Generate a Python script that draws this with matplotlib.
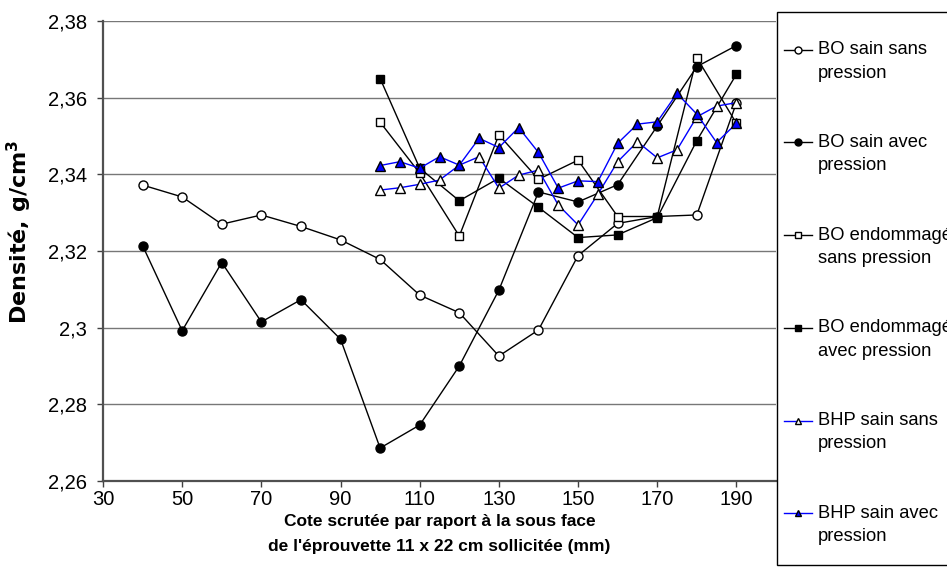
import matplotlib
matplotlib.use("Agg")
import matplotlib.pyplot as plt
from matplotlib.ticker import FixedLocator, FixedFormatter
from matplotlib.legend_handler import HandlerLine2D
from matplotlib.patches import Rectangle

plt.rcParams['font.family'] = ['Liberation Sans', 'DejaVu Sans']

# ---- data ----
x_bo = [40, 50, 60, 70, 80, 90, 100, 110, 120, 130, 140, 150, 160, 170, 180, 190]
bo_sain_sans = [2.3372, 2.3341, 2.3270, 2.3294, 2.3264, 2.3229, 2.3178, 2.3085,
                2.3039, 2.2926, 2.2994, 2.3188, 2.3272, 2.3290, 2.3294, 2.3587]
bo_sain_avec = [2.3214, 2.2992, 2.3170, 2.3015, 2.3073, 2.2970, 2.2686, 2.2746,
                2.2900, 2.3098, 2.3354, 2.3328, 2.3373, 2.3526, 2.3681, 2.3736]

x_bo_end = [100, 110, 120, 130, 140, 150, 160, 170, 180, 190]
bo_end_sans = [2.3536, 2.3403, 2.3239, 2.3503, 2.3387, 2.3437, 2.3290, 2.3290, 2.3704, 2.3533]
bo_end_avec = [2.3650, 2.3416, 2.3331, 2.3390, 2.3314, 2.3235, 2.3242, 2.3287, 2.3488, 2.3661]

x_bhp = [100, 105, 110, 115, 120, 125, 130, 135, 140, 145, 150, 155, 160, 165, 170, 175, 180, 185, 190]
bhp_sans = [2.3359, 2.3365, 2.3374, 2.3385, 2.3424, 2.3446, 2.3364, 2.3398, 2.3411, 2.3320,
            2.3268, 2.3348, 2.3433, 2.3485, 2.3443, 2.3464, 2.3550, 2.3578, 2.3587]
bhp_avec = [2.3423, 2.3433, 2.3416, 2.3446, 2.3424, 2.3494, 2.3470, 2.3522, 2.3457, 2.3364,
            2.3383, 2.3381, 2.3481, 2.3531, 2.3537, 2.3611, 2.3557, 2.3483, 2.3533]

series_labels = ["BO sain sans\npression", "BO sain avec\npression",
                 "BO endommagé\nsans pression", "BO endommagé\navec pression",
                 "BHP sain sans\npression", "BHP sain avec\npression"]

x_ticks = [30, 50, 70, 90, 110, 130, 150, 170, 190]
y_ticks = [2.26, 2.28, 2.30, 2.32, 2.34, 2.36, 2.38]
y_tick_labels = ["2,26", "2,28", "2,3", "2,32", "2,34", "2,36", "2,38"]

x_title = "Cote scrutée par raport à la sous face\nde l'éprouvette 11 x 22 cm sollicitée (mm)"
y_title = r"Densité, g/cm$^\mathbf{3}$"


class TopLineHandler(HandlerLine2D):
    """Place the legend handle level with the first text line."""
    shift = 8.5  # points

    def create_artists(self, legend, orig_handle, xdescent, ydescent,
                       width, height, fontsize, trans):
        return super().create_artists(legend, orig_handle, xdescent,
                                      ydescent - 2 * self.shift, width, height,
                                      fontsize, trans)


# ---- figure ----
W, H = 947, 587
fig = plt.figure(figsize=(W / 100, H / 100), dpi=100)
ax = fig.add_axes([103 / W, 1 - 481 / H, (776 - 103) / W, (481 - 21) / H])

common = dict(lw=1.0, markeredgewidth=1.0, markeredgecolor='black', zorder=3)
h1, = ax.plot(x_bo, bo_sain_sans, color='black', marker='o', markerfacecolor='white',
              markersize=6.5, **common)
h2, = ax.plot(x_bo, bo_sain_avec, color='black', marker='o', markerfacecolor='black',
              markersize=6.5, **common)
h3, = ax.plot(x_bo_end, bo_end_sans, color='black', marker='s', markerfacecolor='white',
              markersize=6.0, **common)
h4, = ax.plot(x_bo_end, bo_end_avec, color='black', marker='s', markerfacecolor='black',
              markersize=6.0, **common)
h5, = ax.plot(x_bhp, bhp_sans, color='#0000FF', marker='^', markerfacecolor='white',
              markersize=7.0, **common)
h6, = ax.plot(x_bhp, bhp_avec, color='#0000FF', marker='^', markerfacecolor='#0000FF',
              markersize=7.0, **common)

ax.set_xlim(30, 200)
ax.set_ylim(2.26, 2.38)
ax.xaxis.set_major_locator(FixedLocator(x_ticks))
ax.yaxis.set_major_locator(FixedLocator(y_ticks))
ax.yaxis.set_major_formatter(FixedFormatter(y_tick_labels))
ax.tick_params(axis='both', direction='out', length=4.5, width=1.0, color='#404040',
               labelsize=14.5)
ax.tick_params(axis='y', pad=7)
ax.tick_params(axis='x', pad=2)

for s in ['top', 'right']:
    ax.spines[s].set_visible(False)
for s in ['left', 'bottom']:
    ax.spines[s].set_color('#505050')
    ax.spines[s].set_linewidth(1.6)

ax.yaxis.grid(True, color='#777777', lw=1.0, zorder=1)
ax.set_axisbelow(True)

ax.set_xlabel(x_title, fontsize=12.5, fontweight='bold', linespacing=1.8)
ax.xaxis.set_label_coords(0.5, (481 - 514) / 460)
ax.set_ylabel(y_title, fontsize=16, fontweight='bold', family=['DejaVu Sans'])
ax.yaxis.set_label_coords((34 - 103) / 673, (481 - 232) / 460)

# legend frame (extends beyond the right edge like the reference)
fig.add_artist(Rectangle((777 / W, 1 - 565 / H), 200 / W, (565 - 11.5) / H,
                         transform=fig.transFigure, facecolor='white',
                         edgecolor='black', lw=1.0, zorder=5))

leg = fig.legend([h1, h2, h3, h4, h5, h6], series_labels,
                 loc='upper left', bbox_to_anchor=(784 / W, 1 - 41 / H),
                 frameon=False, fontsize=13.2, handlelength=1.55, handletextpad=0.3,
                 labelspacing=2.85, borderpad=0, borderaxespad=0,
                 handler_map={h: TopLineHandler() for h in [h1, h2, h3, h4, h5, h6]})
leg.set_zorder(6)
for t in leg.get_texts():
    t.set_linespacing(1.5)
for lh in leg.legend_handles:
    lh.set_markersize(5)

fig.savefig("out.png", dpi=100)
